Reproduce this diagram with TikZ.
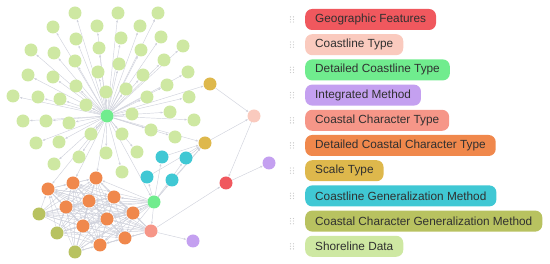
\documentclass[tikz,border=0pt]{standalone}
\usepackage{fontspec}
\setmainfont{Liberation Sans}
\usetikzlibrary{positioning, arrows.meta, backgrounds}

\definecolor{geoRed}{RGB}{240,88,94}
\definecolor{coastPink}{RGB}{250,202,190}
\definecolor{detGreen}{RGB}{112,236,142}
\definecolor{intPurple}{RGB}{196,160,240}
\definecolor{charSalmon}{RGB}{246,150,136}
\definecolor{detOrange}{RGB}{240,136,76}
\definecolor{scaleGold}{RGB}{222,184,76}
\definecolor{genCyan}{RGB}{64,200,212}
\definecolor{genOlive}{RGB}{184,194,96}
\definecolor{shoreGreen}{RGB}{206,232,162}
\definecolor{edgeGray}{RGB}{208,210,220}
\definecolor{labelText}{RGB}{48,48,48}

\begin{document}
\begin{tikzpicture}[
  x=1pt, y=-1pt,
  dot/.style={circle, minimum size=13pt, inner sep=0},
  edge/.style={draw=edgeGray, line width=0.45pt, -{Latex[length=2.6pt, width=2.2pt]}},
  pill/.style={anchor=west, rounded corners=7pt, minimum height=21pt, inner xsep=10pt,
    text=labelText, font=\fontsize{11.8}{14}\selectfont},
  grip/.style={fill=gray!40},
]
  \useasboundingbox (0,0) rectangle (550,264);

  % --- hub nodes ---
  \node[dot, fill=detGreen]   (dct)  at (107,116) {};
  \node[dot, fill=detGreen]   (dct2) at (154,202) {};
  \node[dot, fill=scaleGold]  (st1)  at (210,84)  {};
  \node[dot, fill=scaleGold]  (st2)  at (205,143) {};
  \node[dot, fill=coastPink]  (ct)   at (254,116) {};
  \node[dot, fill=geoRed]     (gf)   at (226,183) {};
  \node[dot, fill=intPurple]  (im1)  at (269,163) {};
  \node[dot, fill=intPurple]  (im2)  at (193,241) {};
  \node[dot, fill=charSalmon] (cct)  at (151,231) {};

  % --- shoreline data leaves ---
  \foreach \x/\y [count=\i] in {75/13, 118/13, 158/13, 53/27, 97/26, 140/26, 76/39, 121/38,
      161/37, 31/50, 54/53, 99/48, 141/50, 183/46, 75/61, 119/64, 164/60, 28/75, 53/77,
      98/72, 143/75, 188/72, 76/86, 167/85, 13/96, 38/97, 60/99, 106/92, 126/89, 147/97,
      189/97, 86/105, 23/121, 46/121, 69/123, 132/114, 170/112, 194/120, 36/143, 59/142,
      91/134, 122/134, 151/130, 175/137, 54/164, 79/157, 106/153, 137/152, 122/172}
    \node[dot, fill=shoreGreen] (sd\i) at (\x,\y) {};

  % --- coastline generalization ---
  \foreach \x/\y [count=\i] in {162/157, 186/158, 147/177, 172/180}
    \node[dot, fill=genCyan] (cg\i) at (\x,\y) {};

  % --- detailed coastal character ---
  \foreach \x/\y [count=\i] in {48/189, 73/183, 96/178, 114/197, 89/201, 66/207,
      133/213, 107/219, 83/226, 125/238, 100/245}
    \node[dot, fill=detOrange] (dcc\i) at (\x,\y) {};

  % --- coastal character generalization ---
  \foreach \x/\y [count=\i] in {39/214, 57/233, 75/252}
    \node[dot, fill=genOlive] (ccg\i) at (\x,\y) {};

  % --- edges behind the nodes ---
  \begin{scope}[on background layer]
    \foreach \i in {1,...,49} \draw[edge] (dct) -- (sd\i);
    \draw[edge] (dct) -- (st1);
    \draw[edge] (dct) -- (st2);
    \draw[edge] (dct) -- (dct2);
    \foreach \i in {1,2,3} \draw[edge] (dct) -- (dcc\i);
    \foreach \i in {1,...,4} {
      \draw[edge] (dct2) -- (cg\i);
      \draw[edge] (cg\i) -- (st2);
    }
    \draw[edge] (dct2) -- (st2);
    \foreach \i in {1,...,11} {
      \draw[edge] (dct2) -- (dcc\i);
      \draw[edge] (cct) -- (dcc\i);
      \foreach \k in {1,2,3} \draw[edge] (ccg\k) -- (dcc\i);
      \foreach \j in {\i,...,11}{
        \ifnum\j>\i \draw[edge] (dcc\i) -- (dcc\j); \fi
      }
    }
    \foreach \k in {1,2,3} {
      \draw[edge] (dct2) -- (ccg\k);
      \draw[edge] (cct) -- (ccg\k);
    }
    \draw[edge] (st1) -- (ct);
    \draw[edge] (st2) -- (ct);
    \draw[edge] (ct) -- (gf);
    \draw[edge] (gf) -- (im1);
    \draw[edge] (cct) -- (gf);
    \draw[edge] (cct) -- (im2);
    \draw[edge] (dct2) -- (cct);
  \end{scope}

  % --- legend ---
  \foreach \txt/\col [count=\i] in {Geographic Features/geoRed, Coastline Type/coastPink,
      Detailed Coastline Type/detGreen, Integrated Method/intPurple,
      Coastal Character Type/charSalmon, Detailed Coastal Character Type/detOrange,
      Scale Type/scaleGold, Coastline Generalization Method/genCyan,
      Coastal Character Generalization Method/genOlive, Shoreline Data/shoreGreen}{
    \pgfmathsetmacro{\ry}{19.5+25.2*(\i-1)}
    \node[pill, fill=\col] (key\i) at (305,\ry) {\txt};
    \foreach \gx in {290.5,293.5}
      \foreach \gy in {-2.6,0,2.6}
        \fill[grip] (\gx,\ry+\gy) circle (0.65);
  }
\end{tikzpicture}
\end{document}
